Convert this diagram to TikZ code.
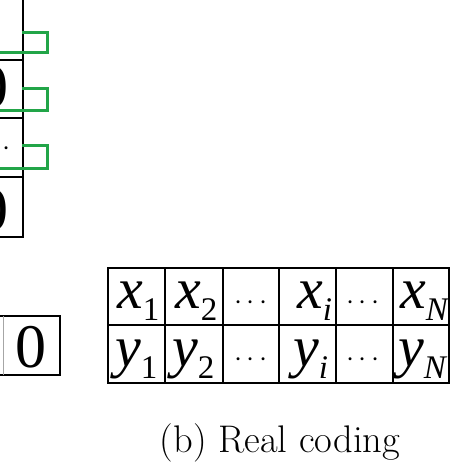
\documentclass[tikz,border=0pt]{standalone}
\usepackage{fontspec}
\newfontfamily\tnr{Liberation Serif}
\newcommand\mainsz{\fontsize{58}{60}\selectfont}
\newcommand\subsz{\fontsize{33}{35}\selectfont}
\newcommand\vsub[2]{{\tnr\mainsz\itshape #1}\raisebox{-12pt}{\tnr\subsz #2}}
\definecolor{brgreen}{RGB}{34,165,72}
\tikzset{
  grid/.style={line width=2pt, black},
  gbracket/.style={line width=3pt, brgreen},
  lbl/.style={anchor=base west, inner sep=0pt},
  dotlbl/.style={anchor=center, inner sep=0pt, scale=2.9},
  zero/.style={anchor=base, inner sep=0pt, font=\tnr\fontsize{62}{64}\selectfont},
}
\begin{document}
\begin{tikzpicture}[x=1pt,y=-1pt]
\useasboundingbox (0,0) rectangle (474,474);
\clip (0,0) rectangle (474,474);
% left column (cut off)
\draw[grid] (23,-10) -- (23,237) -- (-10,237);
\draw[grid] (-10,60) -- (23,60);
\draw[grid] (-10,118) -- (23,118);
\draw[grid] (-10,177) -- (23,177);
\node[zero] (z1) at (-7,107) {0};
\node[zero] (z2) at (-7,230) {0};
\node[dotlbl] (d0) at (-6,149) {$\cdots$};
% green brackets
\draw[gbracket] (22,32) -- (47,32) -- (47,52) -- (-10,52);
\draw[gbracket] (22,88) -- (47,88) -- (47,110) -- (-10,110);
\draw[gbracket] (22,145) -- (47,145) -- (47,168) -- (-10,168);
% bottom-left box
\draw[grid] (-10,316) -- (60,316) -- (60,375) -- (-10,375);
\draw[line width=1pt, black!35] (3,316) -- (3,375);
\node[zero] (z3) at (30.5,367) {0};
% table
\draw[grid] (108,268) rectangle (449,383);
\draw[grid] (108,325) -- (449,325);
\foreach \xx in {165,223,279,336,393} \draw[grid] (\xx,268) -- (\xx,383);
\node[lbl] (x1) at (117,308) {\vsub{x}{1}};
\node[lbl] (x2) at (175,308) {\vsub{x}{2}};
\node[dotlbl] (xd1) at (251,303) {$\cdots$};
\node[lbl] (xi) at (297,308) {\vsub{x}{\itshape i}};
\node[dotlbl] (xd2) at (363,303) {$\cdots$};
\node[lbl] (xN) at (400,308) {\vsub{x}{\itshape N}};
\node[lbl] (y1) at (115,366) {\vsub{y}{1}};
\node[lbl] (y2) at (172,366) {\vsub{y}{2}};
\node[dotlbl] (yd1) at (251,360) {$\cdots$};
\node[lbl] (yi) at (293,366) {\vsub{y}{\itshape i}};
\node[dotlbl] (yd2) at (363,360) {$\cdots$};
\node[lbl] (yN) at (398,366) {\vsub{y}{\itshape N}};
% caption
\node[anchor=base, inner sep=0pt] (cap) at (280,452) {\fontsize{38.5}{42}\selectfont (b) Real coding};
\end{tikzpicture}
\end{document}
